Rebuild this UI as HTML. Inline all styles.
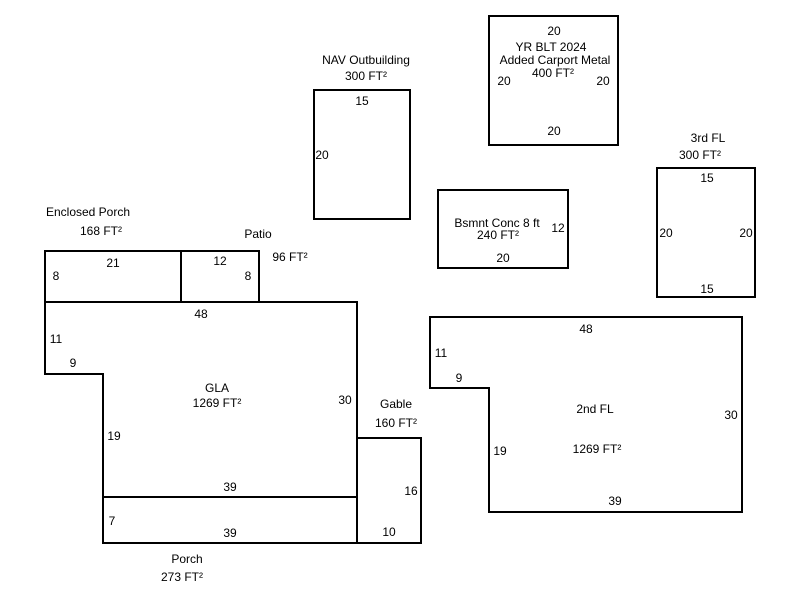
<!DOCTYPE html>
<html><head><style>
body{margin:0;background:#fff;width:800px;height:600px;overflow:hidden}
svg text{font-family:"Liberation Sans",Arial,sans-serif;font-size:12px;fill:#000;text-anchor:middle}
</style></head><body>
<svg width="800" height="600" viewBox="0 0 800 600">
<g fill="none" stroke="#000" stroke-width="2">
<rect x="45" y="251" width="136" height="51"/>
<rect x="181" y="251" width="78" height="51"/>
<polygon points="45,302 357,302 357,543 103,543 103,374 45,374"/>
<line x1="103" y1="497" x2="357" y2="497"/>
<rect x="357" y="438" width="64" height="105"/>
<rect x="314" y="90" width="96" height="129"/>
<rect x="489" y="16" width="129" height="129"/>
<rect x="438" y="190" width="130" height="78"/>
<rect x="657" y="168" width="98" height="129"/>
<polygon points="430,317 742,317 742,512 489,512 489,388 430,388"/>
</g>
<text x="88" y="216">Enclosed Porch</text>
<text x="101" y="235">168 FT²</text>
<text x="258" y="238">Patio</text>
<text x="290" y="261">96 FT²</text>
<text x="113" y="267">21</text>
<text x="56" y="280">8</text>
<text x="220" y="265">12</text>
<text x="248" y="280">8</text>
<text x="201" y="318">48</text>
<text x="56" y="343">11</text>
<text x="73" y="367">9</text>
<text x="217" y="392">GLA</text>
<text x="217" y="407">1269 FT²</text>
<text x="345" y="404">30</text>
<text x="114" y="440">19</text>
<text x="230" y="491">39</text>
<text x="112" y="525">7</text>
<text x="230" y="537">39</text>
<text x="187" y="563">Porch</text>
<text x="182" y="581">273 FT²</text>
<text x="396" y="408">Gable</text>
<text x="396" y="427">160 FT²</text>
<text x="411" y="495">16</text>
<text x="389" y="536">10</text>
<text x="366" y="64">NAV Outbuilding</text>
<text x="366" y="80">300 FT²</text>
<text x="362" y="105">15</text>
<text x="322" y="159">20</text>
<text x="554" y="35">20</text>
<text x="551" y="51">YR BLT 2024</text>
<text x="555" y="64">Added Carport Metal</text>
<text x="553" y="77">400 FT²</text>
<text x="504" y="85">20</text>
<text x="603" y="85">20</text>
<text x="554" y="135">20</text>
<text x="497" y="227">Bsmnt Conc 8 ft</text>
<text x="498" y="239">240 FT²</text>
<text x="558" y="232">12</text>
<text x="503" y="262">20</text>
<text x="708" y="142">3rd FL</text>
<text x="700" y="159">300 FT²</text>
<text x="707" y="182">15</text>
<text x="666" y="237">20</text>
<text x="746" y="237">20</text>
<text x="707" y="293">15</text>
<text x="586" y="333">48</text>
<text x="441" y="357">11</text>
<text x="459" y="382">9</text>
<text x="595" y="413">2nd FL</text>
<text x="731" y="419">30</text>
<text x="500" y="455">19</text>
<text x="597" y="453">1269 FT²</text>
<text x="615" y="505">39</text>
</svg>
</body></html>
